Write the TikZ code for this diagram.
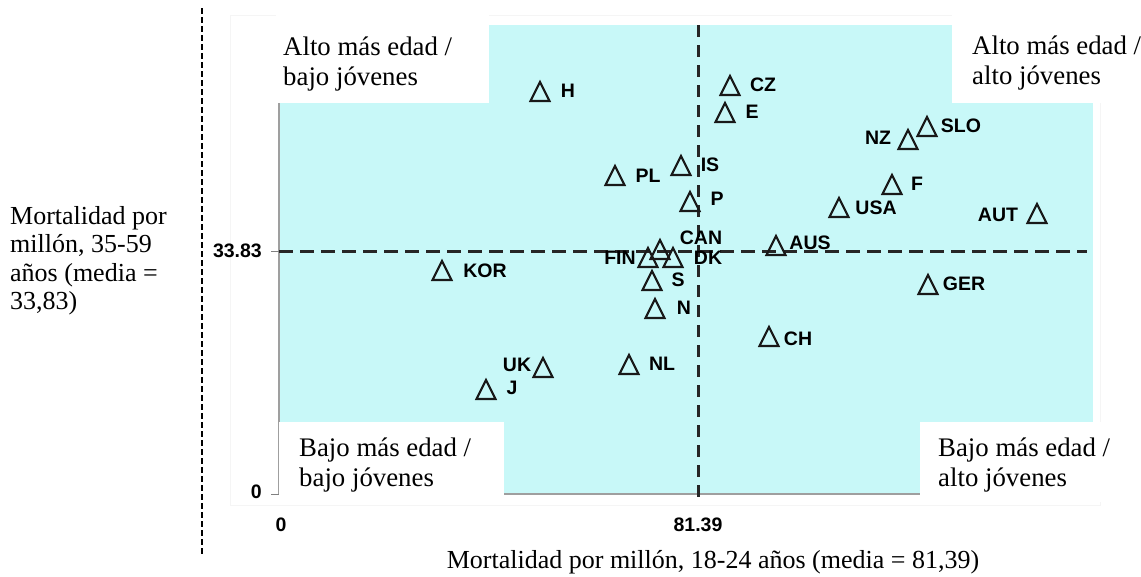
\documentclass[tikz,border=0pt]{standalone}
\usepackage{fontspec}
\setmainfont{Liberation Serif}
\setsansfont{Liberation Sans}
\usepackage{tikz}
\usetikzlibrary{calc}

\definecolor{celeste}{RGB}{200,248,248}

\begin{document}
\begin{tikzpicture}[x=1pt,y=-1pt,
	lab/.style={font=\fontsize{19.5}{21}\selectfont\sffamily\bfseries,inner sep=0pt},
	num/.style={font=\fontsize{19.5}{21}\selectfont\sffamily\bfseries,inner sep=0pt},
	cuad/.style={font=\fontsize{26.8}{29.5}\selectfont,align=left,inner sep=0pt,anchor=north west},
	tri/.pic={\draw[line width=2.1pt,black!90] (-9.5,10)--(9.5,10)--(0,-9)--cycle;}]
		\useasboundingbox (0,0) rectangle (1141,576);
		\draw[black!4] (230,15) rectangle (1100,505); %枠
		\fill[celeste] (279,25) rectangle (1093,494); %背景
		\draw[gray!75,line width=2pt] (279,25)--(279,494)--(1093,494); %軸
		\draw[gray,line width=1pt] (271,251)--(279,251) (271,494)--(279,494);
		\draw[black!85,line width=3pt,dash pattern=on 14pt off 7pt] (279,251)--(1087,251); %平均 y
		\draw[black!85,line width=3pt,dash pattern=on 12pt off 8pt] (698,25)--(698,500); %平均 x
		\draw[line width=2.5pt,dash pattern=on 6pt off 3pt] (202,8)--(202,555);
		\fill[white] (276,0) rectangle (489,103);
		\fill[white] (952,0) rectangle (1141,103);
		\fill[white] (279,422) rectangle (504,500);
		\fill[white] (920,422) rectangle (1141,502);
		\draw(283,37)node[cuad](altobajo){Alto más edad /\\bajo jóvenes};
		\draw(972,36)node[cuad](altoalto){Alto más edad /\\alto jóvenes};
		\draw(299,438)node[cuad](bajobajo){Bajo más edad /\\bajo jóvenes};
		\draw(938,438)node[cuad](bajoalto){Bajo más edad /\\alto jóvenes};
		\draw(10,206)node[cuad,font=\fontsize{26}{28.5}\selectfont](ytit){Mortalidad por\\millón, 35-59\\años (media =\\33,83)}; %y軸
		\draw(713,568)node[cuad,anchor=base,font=\fontsize{26}{28.5}\selectfont](xtit){Mortalidad por millón, 18-24 años (media = 81,39)}; %x軸
		\draw(262,251)node[num,anchor=east](ymed){33.83};
		\draw(262,492)node[num,anchor=east](ycero){0};
		\draw(281,525)node[num](xcero){0}; %原点
		\draw(698,525)node[num](xmed){81.39};
		% paises
		\pic at (540,91) {tri};  \draw(568,91)node[lab](lH){H};
		\pic at (730,85) {tri};  \draw(763,85)node[lab](lCZ){CZ};
		\pic at (725,112) {tri}; \draw(752,112)node[lab](lE){E};
		\pic at (615,175) {tri}; \draw(648,176)node[lab](lPL){PL};
		\pic at (681,165) {tri}; \draw(710,165)node[lab](lIS){IS};
		\pic at (690,201) {tri}; \draw(717,199)node[lab](lP){P};
		\pic at (660,249) {tri}; \draw(701,238)node[lab](lCAN){CAN};
		\pic at (648,257) {tri}; \draw(620,258)node[lab](lFIN){FIN};
		\pic at (673,257) {tri}; \draw(708,258)node[lab](lDK){DK};
		\pic at (652,280) {tri}; \draw(678,280)node[lab](lS){S};
		\pic at (655,308) {tri}; \draw(684,308)node[lab](lN){N};
		\pic at (776,245) {tri}; \draw(810,243)node[lab](lAUS){AUS};
		\pic at (769,336) {tri}; \draw(798,339)node[lab](lCH){CH};
		\pic at (442,270) {tri}; \draw(485,271)node[lab](lKOR){KOR};
		\pic at (543,367) {tri}; \draw(517,365)node[lab](lUK){UK};
		\pic at (629,364) {tri}; \draw(662,364)node[lab](lNL){NL};
		\pic at (486,389) {tri}; \draw(512,388)node[lab](lJ){J};
		\pic at (927,126) {tri}; \draw(961,126)node[lab](lSLO){SLO};
		\pic at (908,139) {tri}; \draw(878,138)node[lab](lNZ){NZ};
		\pic at (892,184) {tri}; \draw(917,184)node[lab](lF){F};
		\pic at (839,207) {tri}; \draw(876,208)node[lab](lUSA){USA};
		\pic at (1037,213) {tri}; \draw(998,215)node[lab](lAUT){AUT};
		\pic at (928,284) {tri}; \draw(964,284)node[lab](lGER){GER};
	\end{tikzpicture}
\end{document}
